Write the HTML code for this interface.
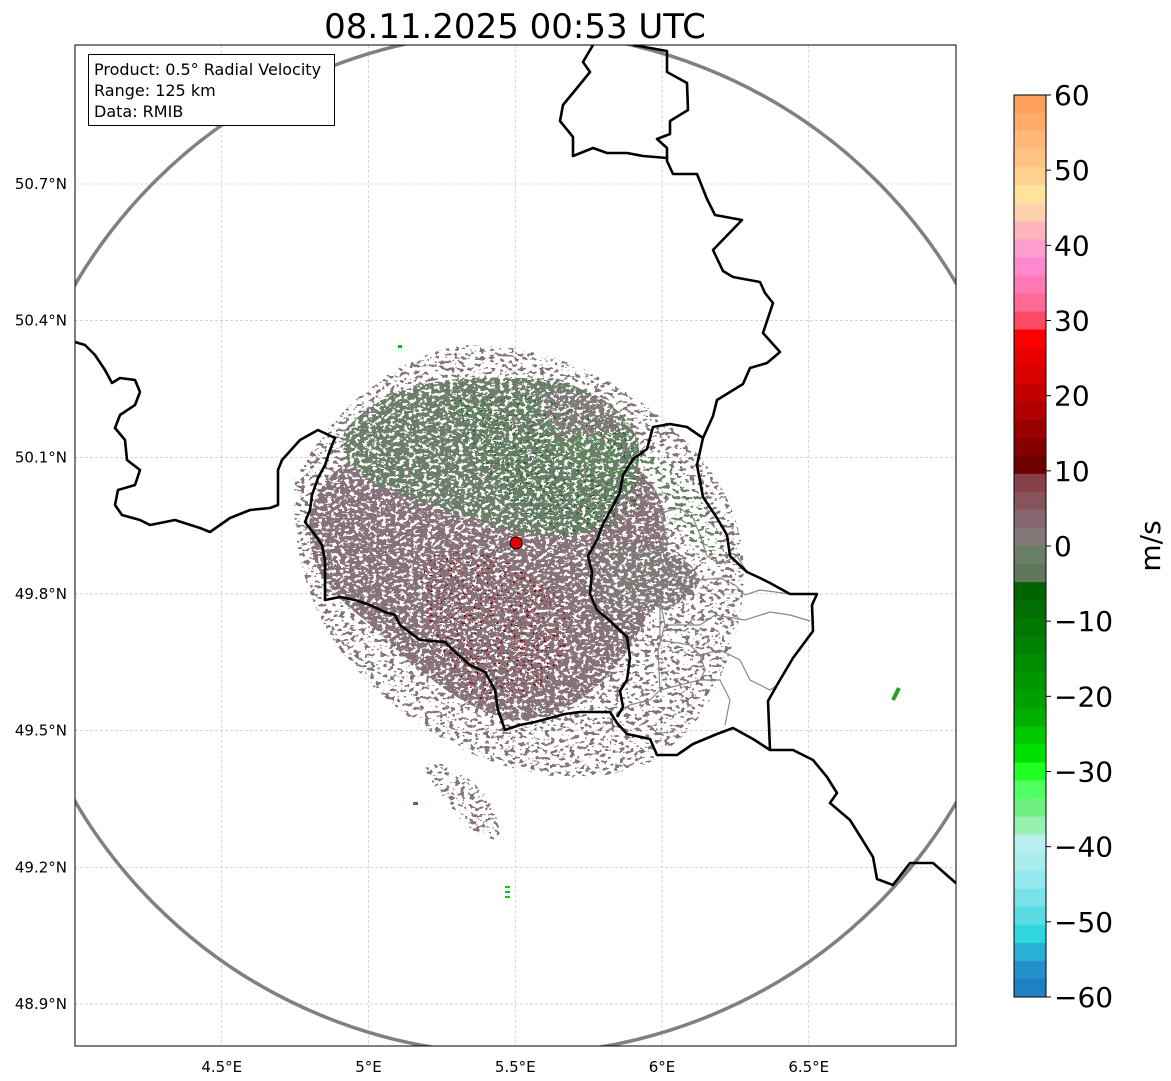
<!DOCTYPE html>
<html><head><meta charset="utf-8">
<style>
html,body{margin:0;padding:0;background:#fff;}
body{width:1171px;height:1081px;overflow:hidden;font-family:"DejaVu Sans","Liberation Sans",sans-serif;}
svg{display:block}
</style></head>
<body>
<svg id="fig" width="1171" height="1081" viewBox="0 0 1171 1081" xmlns="http://www.w3.org/2000/svg">
<defs>
<clipPath id="plotclip"><rect x="75" y="45" width="881" height="1001"/></clipPath>
<filter id="speck" x="0" y="0" width="1171" height="1081" filterUnits="userSpaceOnUse">
<feTurbulence type="fractalNoise" baseFrequency="0.22 0.3" numOctaves="2" seed="4" result="n"/>
<feColorMatrix in="n" type="matrix" values="0 0 0 0 0  0 0 0 0 0  0 0 0 0 0  1 0 0 0 0" result="a"/>
<feComponentTransfer in="a" result="m"><feFuncA type="discrete" tableValues="0 0 0 0 0 0 0 0 0 1 1 1 1 1 1 1 1 1 1 1"/></feComponentTransfer>
<feComposite in="SourceGraphic" in2="m" operator="in"/>
</filter>
<filter id="speck2" x="0" y="0" width="1171" height="1081" filterUnits="userSpaceOnUse">
<feTurbulence type="fractalNoise" baseFrequency="0.2 0.28" numOctaves="2" seed="11" result="n"/>
<feColorMatrix in="n" type="matrix" values="0 0 0 0 0  0 0 0 0 0  0 0 0 0 0  1 0 0 0 0" result="a"/>
<feComponentTransfer in="a" result="m"><feFuncA type="discrete" tableValues="0 0 0 0 0 0 0 1 1 1 1 1"/></feComponentTransfer>
<feComposite in="SourceGraphic" in2="m" operator="in"/>
</filter>
<filter id="speck3" x="0" y="0" width="1171" height="1081" filterUnits="userSpaceOnUse">
<feTurbulence type="fractalNoise" baseFrequency="0.3 0.4" numOctaves="2" seed="23" result="n"/>
<feColorMatrix in="n" type="matrix" values="0 0 0 0 0  0 0 0 0 0  0 0 0 0 0  1 0 0 0 0" result="a"/>
<feComponentTransfer in="a" result="m"><feFuncA type="discrete" tableValues="0 0 0 0 0 0 0 0 0 0 0 1 1 1 1 1"/></feComponentTransfer>
<feComposite in="SourceGraphic" in2="m" operator="in"/>
</filter>
</defs>

<text x="515" y="38" text-anchor="middle" font-size="34" fill="#000">08.11.2025 00:53 UTC</text>

<g id="grid"></g>

<g clip-path="url(#plotclip)">
  <g filter="url(#speck2)">
    <path d="M295,480 C330,410 400,350 470,345 C560,345 650,390 710,470 C760,540 750,620 710,700 C670,770 600,790 520,770 C440,750 380,700 340,650 C305,600 290,540 295,480 Z" fill="#857478"/>
    <path d="M540,700 C580,700 640,710 670,745 C650,775 600,775 570,755 Z" fill="#857478"/>
    <path d="M420,760 C450,760 500,790 500,840 C470,840 440,800 420,760 Z" fill="#857478"/>
    <path d="M640,450 C680,460 720,520 730,560 C700,560 660,520 640,450 Z" fill="#6b7f68"/>
  </g>
  <g filter="url(#speck)">
    <path d="M310,515 C325,455 380,445 450,435 C520,430 600,435 645,475 C680,515 670,580 645,620 C615,680 575,715 520,720 C460,715 410,660 365,620 C325,590 305,560 310,515 Z" fill="#877279"/>
    <path d="M345,430 C385,385 440,375 520,378 C580,380 620,400 638,440 C645,480 620,515 580,535 C520,540 460,515 400,495 C355,478 335,458 345,430 Z" fill="#6b7f68"/>
    <path d="M540,395 C570,388 610,395 620,420 C615,440 580,440 550,430 Z" fill="#807a78"/>
    <path d="M600,550 C640,540 690,550 700,580 C690,610 640,620 610,600 Z" fill="#807a78"/>
  </g>
  <g filter="url(#speck3)">
    <path d="M450,400 C540,385 620,405 645,460 C645,525 600,545 560,535 C515,515 470,470 450,400 Z" fill="#0a6a12"/>
    <path d="M540,420 C580,420 620,440 625,480 C590,480 560,460 540,420 Z" fill="#20b020"/>
  </g>
  <g filter="url(#speck3)">
    <path d="M420,560 C470,540 530,560 570,610 C570,680 530,710 480,700 C440,670 420,620 420,560 Z" fill="#8a0010"/>
  </g>
  <g>
    <rect x="505" y="886" width="5" height="2" fill="#00d000"/>
    <rect x="505" y="891" width="5" height="2" fill="#00d000"/>
    <rect x="505" y="896" width="5" height="2" fill="#00d000"/>
    <rect x="413" y="802" width="5" height="3" fill="#2a70c0"/>
    <path d="M893,700 L899,688" stroke="#2a9a2a" stroke-width="4"/>
    <rect x="398" y="345" width="4" height="3" fill="#00c000"/>
  </g>

  <circle cx="516" cy="543" r="511" fill="none" stroke="#808080" stroke-width="3.5"/>

  <g fill="none" stroke="#888" stroke-width="1.2">
    <path d="M628,497 L645,500 L660,513 L680,508 L693,518 L700,535 L707,556 L720,564 L737,556 L747,572"/>
    <path d="M660,513 L665,530 L660,560 L670,575 L700,580 L720,578 L735,585 L745,595 L760,590 L790,594"/>
    <path d="M620,610 L640,600 L660,600 L665,625 L700,625 L715,615 L745,620 L770,612 L790,615 L810,621"/>
    <path d="M660,600 L660,640 L690,645 L700,655 L720,650 L740,660 L750,680 L770,690 L776,686"/>
    <path d="M665,625 L658,650 L660,690 L650,700 L630,705 L620,710"/>
    <path d="M660,690 L680,685 L700,680 L720,680 L730,700 L725,725"/>
    <path d="M700,655 L705,670 L700,680"/>
  </g>

  <g fill="none" stroke="#000" stroke-width="2.6" stroke-linejoin="round">
    <path d="M75,342 L85,345 L95,355 L105,370 L112,383 L120,378 L135,380 L140,392 L135,405 L120,415 L115,428 L125,440 L127,460 L140,470 L135,485 L118,490 L115,505 L122,515 L140,520 L150,525 L175,520 L200,528 L210,532 L230,518 L250,510 L270,508 L278,505 L278,470 L282,460 L300,440 L318,430 L335,438 L330,450 L325,465 L318,478 L312,495 L310,510 L305,522 L315,535 L322,545 L325,560 L325,580 L325,600 L340,597 L355,600 L370,605 L385,612 L395,615 L400,625 L420,640 L445,642 L455,652 L470,665 L485,672 L495,690 L498,710 L505,730 L520,725 L535,722 L550,718 L565,714 L580,712 L593,712 L610,712 L617,723 L627,734 L650,739 L657,755 L677,755 L693,744 L717,734 L733,728 L753,739 L770,750 L793,750 L813,760 L827,777 L837,793 L830,803 L850,820 L860,836 L873,857 L877,879 L893,885 L910,863 L933,863 L957,884"/>
    <path d="M593,45 L583,62 L590,72 L577,88 L563,105 L560,121 L573,137 L573,156 L593,148 L607,153 L627,153 L643,156 L667,158"/>
    <path d="M633,45 L667,51 L667,72 L687,83 L688,110 L670,121 L670,134 L657,139 L667,148 L667,161 L673,174 L697,174 L707,199 L715,215 L742,220 L713,250 L723,271 L733,277 L760,282 L765,293 L773,303 L763,333 L780,352 L767,363 L750,368 L743,384 L717,400 L713,416 L703,438 L697,465 L703,497 L717,518 L727,535 L730,556 L747,572 L760,578 L770,583 L790,594 L817,594 L812,605 L813,631 L793,658 L777,685 L768,701 L770,750"/>
    <path d="M703,438 L687,427 L670,424 L653,427 L647,449 L633,459 L623,475 L620,492 L612,508 L603,524 L597,540 L588,556 L592,572 L590,594 L597,610 L610,621 L627,637 L630,658 L627,680 L620,691 L623,707 L617,717"/>
  </g>

  <circle cx="516" cy="543" r="6" fill="#e00000" stroke="#000" stroke-width="1"/>
</g>

<rect x="75" y="45" width="881" height="1001" fill="none" stroke="#000" stroke-width="1"/>

<g>
  <rect x="88.5" y="54.5" width="246" height="71" fill="#fff" stroke="#000" stroke-width="1"/>
  <text x="94" y="75" font-size="16" fill="#000">Product: 0.5° Radial Velocity</text>
  <text x="94" y="96" font-size="16" fill="#000">Range: 125 km</text>
  <text x="94" y="117" font-size="16" fill="#000">Data: RMIB</text>
</g>

<g id="axes"></g>
<g id="cbar"></g>
<text transform="translate(1160,546) rotate(-90)" text-anchor="middle" font-size="28" fill="#000">m/s</text>
</svg>

<script>
const lonTicks = [4.5, 5.0, 5.5, 6.0, 6.5];
const lonLabels = ["4.5°E", "5°E", "5.5°E", "6°E", "6.5°E"];
const latTicks = [50.7, 50.4, 50.1, 49.8, 49.5, 49.2, 48.9];
const latLabels = ["50.7°N", "50.4°N", "50.1°N", "49.8°N", "49.5°N", "49.2°N", "48.9°N"];
const cbarTicks = [60, 50, 40, 30, 20, 10, 0, -10, -20, -30, -40, -50, -60];
const cbarColors = ["#ffa05c","#ffac6a","#ffb878","#ffc282","#ffd08e","#ffe29c","#ffd2ae","#ffb4be","#ff9ecc","#ff88d0","#ff7ab4","#ff6a98","#ff4a66",
 "#ff0000","#e80000","#d80000","#c40000","#b00000","#9a0000","#840000","#6e0000",
 "#854048","#87545e","#886670","#857878","#6a8066","#5f785a",
 "#006400","#006e00","#007800","#008200","#008c00","#009600","#00a000","#00b000","#00c800","#00e000","#22ff22","#50ff60","#70f080","#98f0b0",
 "#b8eeee","#a8ecee","#92e8ec","#78e2e8","#58dce2","#30d6de","#2ab0d4","#2490cc","#2080c4"];

const NS = "http://www.w3.org/2000/svg";
const xOf = lon => 75 + (lon - 4.0) * 293.5;
const yOf = lat => 184 + (50.7 - lat) * 455.5;
const vOf = v => 95 + (60 - v) * (902 / 120);

const grid = document.getElementById('grid');
const axes = document.getElementById('axes');
lonTicks.forEach((t, i) => {
  const x = xOf(t);
  const l = document.createElementNS(NS, 'line');
  l.setAttribute('x1', x); l.setAttribute('x2', x); l.setAttribute('y1', 45); l.setAttribute('y2', 1046);
  l.setAttribute('stroke', '#bbb'); l.setAttribute('stroke-width', '0.6'); l.setAttribute('stroke-dasharray', '3,2');
  
  
  grid.appendChild(l);
  const tx = document.createElementNS(NS, 'text');
  tx.setAttribute('x', x); tx.setAttribute('y', 1072); tx.setAttribute('text-anchor', 'middle');
  tx.setAttribute('font-size', '15'); tx.textContent = lonLabels[i];
  
  
  axes.appendChild(tx);
});
latTicks.forEach((t, i) => {
  const y = yOf(t);
  const l = document.createElementNS(NS, 'line');
  l.setAttribute('x1', 75); l.setAttribute('x2', 956); l.setAttribute('y1', y); l.setAttribute('y2', y);
  l.setAttribute('stroke', '#bbb'); l.setAttribute('stroke-width', '0.6'); l.setAttribute('stroke-dasharray', '3,2');
  
  
  grid.appendChild(l);
  const tx = document.createElementNS(NS, 'text');
  tx.setAttribute('x', 67); tx.setAttribute('y', y + 5); tx.setAttribute('text-anchor', 'end');
  tx.setAttribute('font-size', '15'); tx.textContent = latLabels[i];
  
  
  axes.appendChild(tx);
});

const cbar = document.getElementById('cbar');
const n = cbarColors.length;
const step = 120 / n;
cbarColors.forEach((c, i) => {
  const vTop = 60 - i * step, vBot = 60 - (i + 1) * step;
  const r = document.createElementNS(NS, 'rect');
  r.setAttribute('x', 1014); r.setAttribute('width', 32);
  r.setAttribute('y', vOf(vTop)); r.setAttribute('height', vOf(vBot) - vOf(vTop) + 0.5);
  r.setAttribute('fill', c);
  
  
  cbar.appendChild(r);
});
const frame = document.createElementNS(NS, 'rect');
frame.setAttribute('x', 1014); frame.setAttribute('y', vOf(60)); frame.setAttribute('width', 32);
frame.setAttribute('height', vOf(-60) - vOf(60)); frame.setAttribute('fill', 'none'); frame.setAttribute('stroke', '#000');


cbar.appendChild(frame);
cbarTicks.forEach(v => {
  const y = vOf(v);
  const l = document.createElementNS(NS, 'line');
  l.setAttribute('x1', 1046); l.setAttribute('x2', 1051); l.setAttribute('y1', y); l.setAttribute('y2', y);
  l.setAttribute('stroke', '#000');
  
  
  cbar.appendChild(l);
  const tx = document.createElementNS(NS, 'text');
  tx.setAttribute('x', 1054); tx.setAttribute('y', y + 10); tx.setAttribute('font-size', '28');
  tx.textContent = v < 0 ? '\u2212' + Math.abs(v) : String(v);
  
  
  cbar.appendChild(tx);
});
</script>
</body></html>
